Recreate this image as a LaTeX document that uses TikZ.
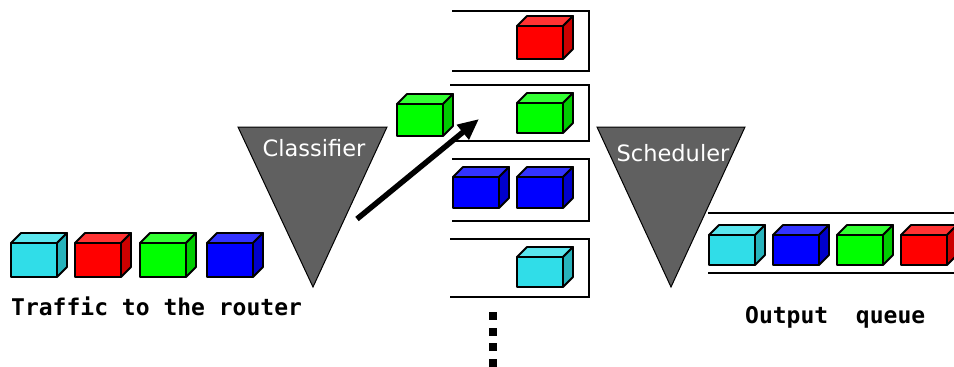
\documentclass[tikz,border=0pt]{standalone}
\usepackage{fontspec}
\setmainfont{DejaVu Sans}
\newfontfamily\labelfont{DejaVu Sans Mono}
\usetikzlibrary{arrows.meta}

% packet colours: F = front, T = top, S = side
\definecolor{pcyanF}{HTML}{30DDE8}
\definecolor{pcyanT}{HTML}{5AE6EE}
\definecolor{pcyanS}{HTML}{27B3BC}
\definecolor{predF}{HTML}{FF0000}
\definecolor{predT}{HTML}{FF3333}
\definecolor{predS}{HTML}{CC0000}
\definecolor{pgreenF}{HTML}{00FF00}
\definecolor{pgreenT}{HTML}{33FF33}
\definecolor{pgreenS}{HTML}{00CC00}
\definecolor{pblueF}{HTML}{0000FF}
\definecolor{pblueT}{HTML}{3333FF}
\definecolor{pblueS}{HTML}{0000CC}
\definecolor{funnel}{HTML}{606060}

\tikzset{
  % a packet drawn as a small box; anchor is the top-left corner of its front face
  pics/packet/.style args={#1/#2}{code={
    \filldraw[fill=#1T] (0,0) -- (10,-10) -- (56,-10) -- (46,0) -- cycle;
    \filldraw[fill=#1S] (46,0) -- (56,-10) -- (56,#2-10) -- (46,#2) -- cycle;
    \filldraw[fill=#1F] (0,0) rectangle (46,#2);
  }},
  pktline/.style={line width=1.8pt, line join=round},
  funnelshape/.style={fill=funnel, draw=black, line width=1pt},
  funneltext/.style={text=white, font=\fontsize{22.5}{26}\selectfont, anchor=base, inner sep=0pt},
  queueline/.style={line width=2.6pt},
  caption/.style={font=\labelfont\bfseries\fontsize{23}{26}\selectfont, anchor=base west, inner sep=0pt},
  bigarrow/.style={line width=5.5pt, -{Triangle[length=21pt,width=18pt]}},
  dotsq/.style={fill=black}
}

\begin{document}
\begin{tikzpicture}[x=1pt,y=-1pt]
\useasboundingbox (0,0) rectangle (954,367);

% incoming traffic
\begin{scope}[pktline]
\pic at (11,243) {packet=pcyan/34};
\pic at (75,243) {packet=pred/34};
\pic at (140,243) {packet=pgreen/34};
\pic at (207,243) {packet=pblue/34};
\end{scope}
\node[caption] (traffic) at (11,315) {Traffic to the router};

% classifier
\filldraw[funnelshape] (238,127) -- (387,127) -- (313,287) -- cycle;
\node[funneltext] (classifier) at (314,156) {Classifier};

% packet being classified
\begin{scope}[pktline]
\pic at (397,104) {packet=pgreen/32};
\end{scope}

% arrow into the per-class queues
\coordinate (arrfrom) at (357,219);
\coordinate (arrto) at (479,119);
\draw[bigarrow] (arrfrom) -- (arrto);

% per-class queues (open on the left)
\begin{scope}[queueline]
\draw (452,11) -- (589,11) -- (589,71) -- (452,71);
\draw (450,85) -- (589,85) -- (589,141) -- (450,141);
\draw (452,159) -- (589,159) -- (589,221) -- (452,221);
\draw (450,239) -- (589,239) -- (589,297) -- (450,297);
\end{scope}
\begin{scope}[pktline]
\pic at (517,26) {packet=pred/33};
\pic at (517,103) {packet=pgreen/30};
\pic at (453,177) {packet=pblue/31};
\pic at (517,177) {packet=pblue/31};
\pic at (517,257) {packet=pcyan/30};
\end{scope}

% more queues follow
\foreach \yy in {312,327.5,343,358.5}
  \fill[dotsq] (489,\yy) rectangle ++(8,8);

% scheduler
\filldraw[funnelshape] (597,127) -- (745,127) -- (671,287) -- cycle;
\node[funneltext] (scheduler) at (673,161) {Scheduler};

% output queue
\begin{scope}[queueline]
\draw (708,213) -- (954,213);
\draw (708,273) -- (954,273);
\end{scope}
\begin{scope}[pktline]
\pic at (709,235) {packet=pcyan/30};
\pic at (773,235) {packet=pblue/30};
\pic at (837,235) {packet=pgreen/30};
\pic at (901,235) {packet=pred/30};
\end{scope}
\node[caption] (outq) at (745,323) {Output\ \ queue};
\end{tikzpicture}
\end{document}
